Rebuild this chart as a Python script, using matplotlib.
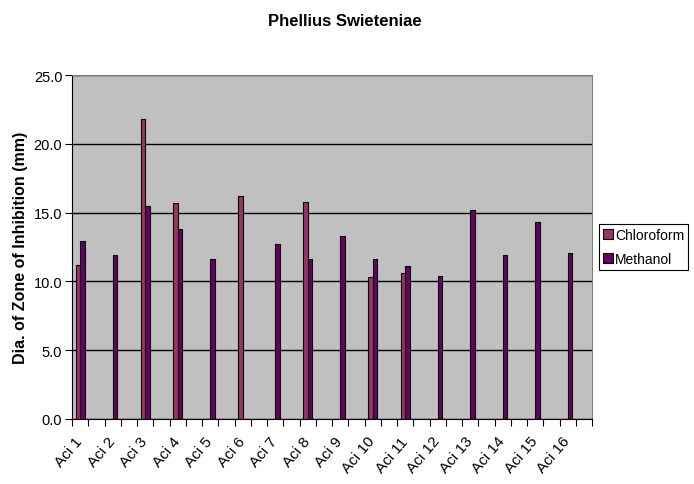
import numpy as np
import matplotlib.pyplot as plt

# data
labels = ['Aci %d' % i for i in range(1, 17)]
chloroform = [11.2, 0, 21.8, 15.7, 0, 16.2, 0, 15.8, 0, 10.3, 10.6, 0, 0, 0, 0, 0]
methanol = [12.9, 11.9, 15.5, 13.8, 11.6, 0, 12.7, 11.6, 13.3, 11.6, 11.1, 10.4, 15.2, 11.9, 14.3, 12.1]

plt.rcParams['font.family'] = ['Liberation Sans', 'DejaVu Sans']

fig = plt.figure(figsize=(6.94, 4.85), dpi=100)
ax = fig.add_axes([72 / 694, 65 / 485, 520 / 694, 344 / 485])
ax.set_facecolor('#C0C0C0')

# each category takes two slots on the axis, data in the even ones
pos = np.arange(len(labels)) * 2
w = 0.28
chl = np.array(chloroform, dtype=float)
chl[chl == 0] = np.nan
met = np.array(methanol, dtype=float)
met[met == 0] = np.nan
ax.bar(pos - w / 2, chl, w, color='#993366', edgecolor='black', linewidth=0.8, label='Chloroform', zorder=3)
ax.bar(pos + w / 2, met, w, color='#660066', edgecolor='black', linewidth=0.8, label='Methanol', zorder=3)

ax.set_xlim(-0.5, 31.5)
ax.set_ylim(0, 25)
ax.set_yticks(np.arange(0, 26, 5))
ax.set_yticklabels(['%.1f' % v for v in np.arange(0, 26, 5)], fontsize=10.5)
ax.yaxis.grid(True, color='black', linewidth=1, zorder=1)
ax.set_axisbelow(True)

ax.set_xticks(np.arange(-0.5, 32, 1))
ax.set_xticklabels([])
ax.set_xticks(pos, labels, minor=True)
ax.tick_params(axis='x', which='major', length=5, color='black', direction='out')
ax.tick_params(axis='x', which='minor', length=0, pad=14)
ax.tick_params(axis='y', length=5, direction='out', pad=2)
for t in ax.get_xticklabels(minor=True):
    t.set_rotation(50)
    t.set_ha('right')
    t.set_va('center')
    t.set_rotation_mode('anchor')
    t.set_fontsize(11)

for s in ['top', 'right']:
    ax.spines[s].set_color('#808080')
for s in ['left', 'bottom']:
    ax.spines[s].set_color('black')

ax.set_ylabel('Dia. of Zone of Inhibition (mm)', fontsize=11.5, fontweight='bold', labelpad=4)
fig.suptitle('Phellius Swieteniae', x=0.497, y=1 - 14 / 485, va='top', fontsize=12, fontweight='bold')

leg = fig.legend(loc='center left', bbox_to_anchor=(599 / 694, 1 - 248 / 485), fontsize=10,
                 fancybox=False, edgecolor='black', framealpha=1, borderpad=0.3,
                 handlelength=0.7, handleheight=0.7, handletextpad=0.15, labelspacing=0.7, borderaxespad=0)
leg.get_frame().set_linewidth(0.8)

fig.savefig('out.png', dpi=100)
